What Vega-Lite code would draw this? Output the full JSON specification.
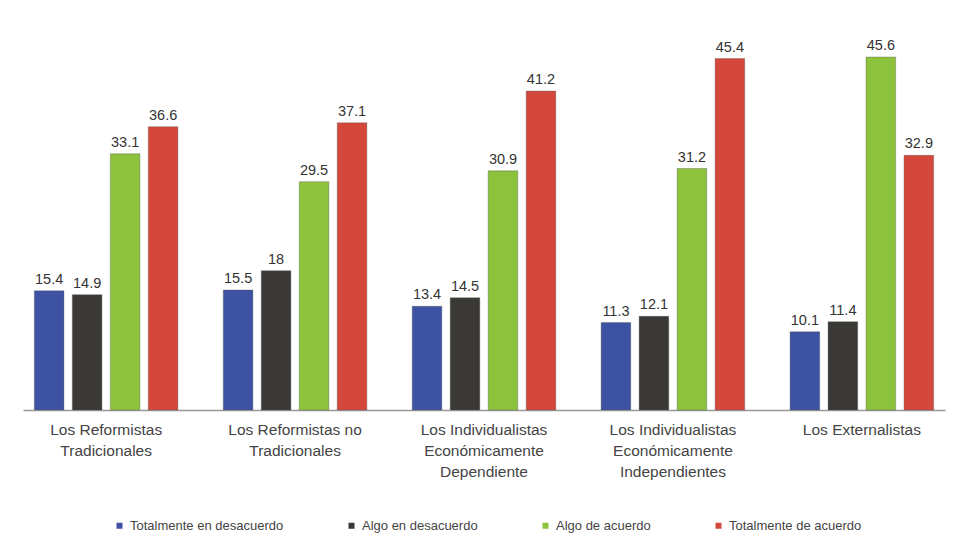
{
  "$schema": "https://vega.github.io/schema/vega-lite/v6.json",
  "width": 922,
  "height": 387,
  "padding": {"left": 23, "top": 23, "right": 10, "bottom": 147},
  "autosize": {"type": "none"},
  "background": "#ffffff",
  "config": {
    "view": {"stroke": null},
    "font": "Liberation Sans"
  },
  "data": {
    "values": [
      {"grupo": "Los Reformistas|Tradicionales", "serie": "Totalmente en desacuerdo", "valor": 15.4},
      {"grupo": "Los Reformistas|Tradicionales", "serie": "Algo en desacuerdo", "valor": 14.9},
      {"grupo": "Los Reformistas|Tradicionales", "serie": "Algo de acuerdo", "valor": 33.1},
      {"grupo": "Los Reformistas|Tradicionales", "serie": "Totalmente de acuerdo", "valor": 36.6},
      {"grupo": "Los Reformistas no|Tradicionales", "serie": "Totalmente en desacuerdo", "valor": 15.5},
      {"grupo": "Los Reformistas no|Tradicionales", "serie": "Algo en desacuerdo", "valor": 18},
      {"grupo": "Los Reformistas no|Tradicionales", "serie": "Algo de acuerdo", "valor": 29.5},
      {"grupo": "Los Reformistas no|Tradicionales", "serie": "Totalmente de acuerdo", "valor": 37.1},
      {"grupo": "Los Individualistas|Económicamente|Dependiente", "serie": "Totalmente en desacuerdo", "valor": 13.4},
      {"grupo": "Los Individualistas|Económicamente|Dependiente", "serie": "Algo en desacuerdo", "valor": 14.5},
      {"grupo": "Los Individualistas|Económicamente|Dependiente", "serie": "Algo de acuerdo", "valor": 30.9},
      {"grupo": "Los Individualistas|Económicamente|Dependiente", "serie": "Totalmente de acuerdo", "valor": 41.2},
      {"grupo": "Los Individualistas|Económicamente|Independientes", "serie": "Totalmente en desacuerdo", "valor": 11.3},
      {"grupo": "Los Individualistas|Económicamente|Independientes", "serie": "Algo en desacuerdo", "valor": 12.1},
      {"grupo": "Los Individualistas|Económicamente|Independientes", "serie": "Algo de acuerdo", "valor": 31.2},
      {"grupo": "Los Individualistas|Económicamente|Independientes", "serie": "Totalmente de acuerdo", "valor": 45.4},
      {"grupo": "Los Externalistas", "serie": "Totalmente en desacuerdo", "valor": 10.1},
      {"grupo": "Los Externalistas", "serie": "Algo en desacuerdo", "valor": 11.4},
      {"grupo": "Los Externalistas", "serie": "Algo de acuerdo", "valor": 45.6},
      {"grupo": "Los Externalistas", "serie": "Totalmente de acuerdo", "valor": 32.9}
    ]
  },
  "encoding": {
    "x": {
      "field": "grupo",
      "type": "nominal",
      "sort": null,
      "scale": {"paddingInner": 0.24, "paddingOuter": 0.06},
      "axis": {
        "title": null,
        "labelAngle": 0,
        "labelExpr": "split(datum.value, '|')",
        "labelFont": "Liberation Sans",
        "labelFontSize": 15.5,
        "labelColor": "#444444",
        "labelLineHeight": 21,
        "labelPadding": 12,
        "ticks": false,
        "domainColor": "#999999",
        "domainWidth": 1.5
      }
    },
    "xOffset": {
      "field": "serie",
      "type": "nominal",
      "sort": ["Totalmente en desacuerdo", "Algo en desacuerdo", "Algo de acuerdo", "Totalmente de acuerdo"],
      "scale": {"paddingInner": 0.22}
    },
    "y": {
      "field": "valor",
      "type": "quantitative",
      "scale": {"domain": [0, 50]},
      "axis": null
    }
  },
  "layer": [
    {
      "mark": {"type": "bar", "stroke": "#555555", "strokeWidth": 0.6, "strokeOpacity": 0.6},
      "encoding": {
        "color": {
          "field": "serie",
          "type": "nominal",
          "sort": ["Totalmente en desacuerdo", "Algo en desacuerdo", "Algo de acuerdo", "Totalmente de acuerdo"],
          "scale": {
            "domain": ["Totalmente en desacuerdo", "Algo en desacuerdo", "Algo de acuerdo", "Totalmente de acuerdo"],
            "range": ["#3d52a3", "#3a3936", "#8dc23c", "#d4483b"]
          },
          "legend": {
            "title": null,
            "orient": "none",
            "legendX": 90,
            "legendY": 496,
            "direction": "horizontal",
            "symbolType": "square",
            "symbolSize": 36,
            "symbolStrokeWidth": 0,
            "labelFontSize": 13,
            "labelColor": "#444444",
            "labelFont": "Liberation Sans",
            "labelOffset": 4,
            "columnPadding": 61
          }
        }
      }
    },
    {
      "mark": {"type": "text", "baseline": "bottom", "dy": -4, "fontSize": 14.5, "color": "#333333", "font": "Liberation Sans"},
      "encoding": {
        "text": {"field": "valor", "type": "quantitative"}
      }
    }
  ]
}
